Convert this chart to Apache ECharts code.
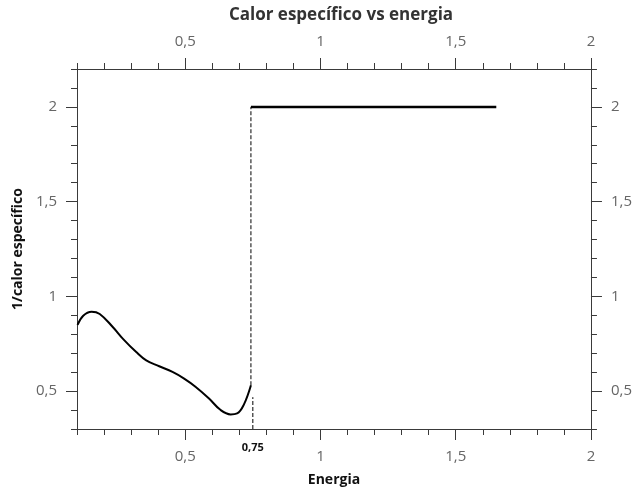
<!DOCTYPE html>
<html lang="es">
<head>
  <meta charset="utf-8">
  <title>Calor específico vs energia</title>
  <script type="text/javascript" src="https://cdn.jsdelivr.net/npm/echarts@6/dist/echarts.min.js"></script>
  <style type="text/css">
    * { margin: 0; padding: 0; }
    html, body, #chart { width: 100%; height: 100%; overflow: hidden; background: #fff; }
  </style>
</head>
<body>
  <div id="chart"></div>
  <script type="text/javascript">
    // datos
    var curva = [
      [0.102, 0.849], [0.123, 0.898], [0.154, 0.919], [0.184, 0.907],
      [0.233, 0.837], [0.27, 0.776], [0.319, 0.706], [0.356, 0.662],
      [0.404, 0.631], [0.453, 0.601], [0.496, 0.566], [0.539, 0.522],
      [0.588, 0.461], [0.631, 0.4], [0.668, 0.377], [0.692, 0.382],
      [0.716, 0.426], [0.743, 0.531]
    ];
    var meseta = [[0.743, 2], [1.65, 2]];
    var salto = [[0.743, 0.531], [0.743, 2]];
    var marca = [[0.75, 0.3], [0.75, 0.468]];
    var marcaLabel = [0.75];

    var xMajor = [0.5, 1, 1.5, 2];
    var xMinor = [0.1, 0.2, 0.3, 0.4, 0.6, 0.7, 0.8, 0.9, 1.1, 1.2, 1.3, 1.4, 1.6, 1.7, 1.8, 1.9];
    var yMajor = [0.5, 1, 1.5, 2];
    var yMinor = [0.3, 0.4, 0.6, 0.7, 0.8, 0.9, 1.1, 1.2, 1.3, 1.4, 1.6, 1.7, 1.8, 1.9, 2.1, 2.2];

    var fuente = '"Open Sans", "DejaVu Sans", sans-serif';
    var coma = function (v) { return String(v).replace('.', ','); };
    var lineaEje = { show: true, lineStyle: { color: '#3a3a3a', width: 1 } };

    function ejeX(pos, ticks, len, labels, extra) {
      var a = {
        type: 'value', position: pos, min: 0.1, max: 2,
        splitLine: { show: false },
        axisLine: extra && extra.noLine ? { show: false } : lineaEje,
        axisTick: ticks ? { show: true, customValues: ticks, length: len, lineStyle: { color: '#3a3a3a' } } : { show: false },
        axisLabel: labels ? {
          show: true, customValues: labels, formatter: coma, margin: 20,
          color: '#666', fontSize: 15, fontFamily: fuente
        } : { show: false }
      };
      if (extra) { for (var k in extra) { if (k !== 'noLine') a[k] = extra[k]; } }
      return a;
    }
    function ejeY(pos, ticks, len, labels, extra) {
      var a = {
        type: 'value', position: pos, min: 0.3, max: 2.2,
        splitLine: { show: false },
        axisLine: lineaEje,
        axisTick: ticks ? { show: true, customValues: ticks, length: len, lineStyle: { color: '#3a3a3a' } } : { show: false },
        axisLabel: labels ? {
          show: true, customValues: labels, formatter: coma, margin: 20,
          color: '#666', fontSize: 15, fontFamily: fuente
        } : { show: false }
      };
      if (extra) { for (var k in extra) a[k] = extra[k]; }
      return a;
    }

    var option = {
      animation: false,
      title: {
        text: 'Calor específico vs energia',
        left: 336, top: 2, textAlign: 'center',
        textStyle: { fontFamily: fuente, fontWeight: 'bold', fontSize: 17, color: '#333' }
      },
      grid: { left: 77, right: 40, top: 69, bottom: 64 },
      xAxis: [
        ejeX('bottom', xMajor, 11, xMajor, {
          name: 'Energia', nameLocation: 'middle', nameGap: 44,
          nameTextStyle: { fontFamily: fuente, fontWeight: 'bold', fontSize: 14, color: '#111' }
        }),
        ejeX('bottom', xMinor, 6, null),
        ejeX('bottom', null, 0, null, { noLine: true, axisLabel: {
          show: true, customValues: marcaLabel, formatter: coma, margin: 13,
          color: '#111', fontSize: 11, fontWeight: 'bold', fontFamily: fuente
        } }),
        ejeX('top', xMajor, 11, xMajor),
        ejeX('top', xMinor, 6, null)
      ],
      yAxis: [
        ejeY('left', yMajor, 11, yMajor, {
          name: '1/calor específico', nameLocation: 'middle', nameGap: 47,
          nameTextStyle: { fontFamily: fuente, fontWeight: 'bold', fontSize: 14, color: '#111' }
        }),
        ejeY('left', yMinor, 6, null),
        ejeY('right', yMajor, 11, yMajor),
        ejeY('right', yMinor, 6, null)
      ],
      series: [
        {
          type: 'line', data: curva, smooth: 0.4, symbol: 'none',
          lineStyle: { color: '#000', width: 2 }
        },
        {
          type: 'line', data: meseta, symbol: 'none',
          lineStyle: { color: '#000', width: 2.5 }
        },
        {
          type: 'line', data: salto, symbol: 'none',
          lineStyle: { color: '#000', width: 1, type: [4, 2] }
        },
        {
          type: 'line', data: marca, symbol: 'none',
          lineStyle: { color: '#000', width: 1, type: [4, 2] }
        }
      ]
    };

    var chart = echarts.init(document.getElementById('chart'));
    chart.setOption(option);
  </script>
</body>
</html>
